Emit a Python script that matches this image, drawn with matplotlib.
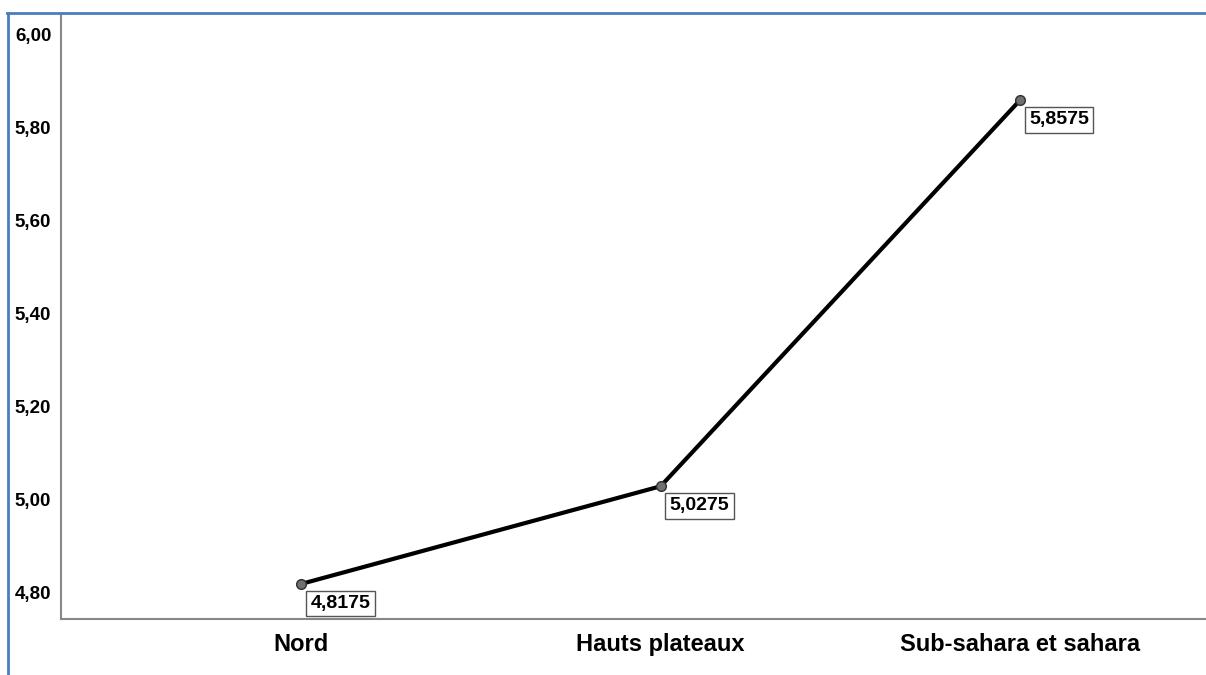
import matplotlib
matplotlib.use("Agg")
import matplotlib.pyplot as plt
from matplotlib.lines import Line2D

categories = ["Nord", "Hauts plateaux", "Sub-sahara et sahara"]
values = [4.8175, 5.0275, 5.8575]
yticks = [4.80, 5.00, 5.20, 5.40, 5.60, 5.80, 6.00]

plt.rcParams['font.family'] = ['Liberation Sans', 'DejaVu Sans']

W, H = 1206, 675
fig = plt.figure(figsize=(W/100, H/100), dpi=100)
ax = fig.add_axes([61/W, 56/H, 1 - 61/W, (619-15)/H])

x = list(range(len(categories)))
ax.plot(x, values, color='black', lw=3.0, zorder=3)
ax.plot(x, values, 'o', ms=7, mfc='#707070', mec='#303030', mew=1, zorder=4)

for xi, v in zip(x, values):
    ax.annotate(f"{v:.4f}".replace('.', ','), (xi, v), xytext=(6.5, -8),
                textcoords='offset points', ha='left', va='top',
                fontsize=14, fontweight='bold', color='black',
                bbox=dict(boxstyle='square,pad=0.22', fc='white', ec='#555555', lw=1),
                zorder=5)

ax.set_xlim(-0.669, 2.518)
ax.set_ylim(4.742, 6.041)
ax.set_xticks(x)
ax.set_xticklabels(categories, fontsize=17, fontweight='bold')
ax.set_yticks(yticks)
ax.set_yticklabels([f"{t:.2f}".replace('.', ',') for t in yticks], fontsize=13.5, fontweight='bold')
ax.tick_params(axis='both', length=0)
ax.tick_params(axis='y', pad=7)
ax.tick_params(axis='x', pad=10)
for s in ['top', 'right']:
    ax.spines[s].set_visible(False)
for s in ['left', 'bottom']:
    ax.spines[s].set_color('#888888')
    ax.spines[s].set_linewidth(1.5)

# blue frame
blue = '#4a7ebb'
fig.add_artist(Line2D([7/W, 1.0], [1 - 12.5/H, 1 - 12.5/H], color=blue, lw=2, transform=fig.transFigure))
fig.add_artist(Line2D([7.5/W, 7.5/W], [0, 1 - 12.5/H], color=blue, lw=2, transform=fig.transFigure))

fig.savefig("out.png", dpi=100)
